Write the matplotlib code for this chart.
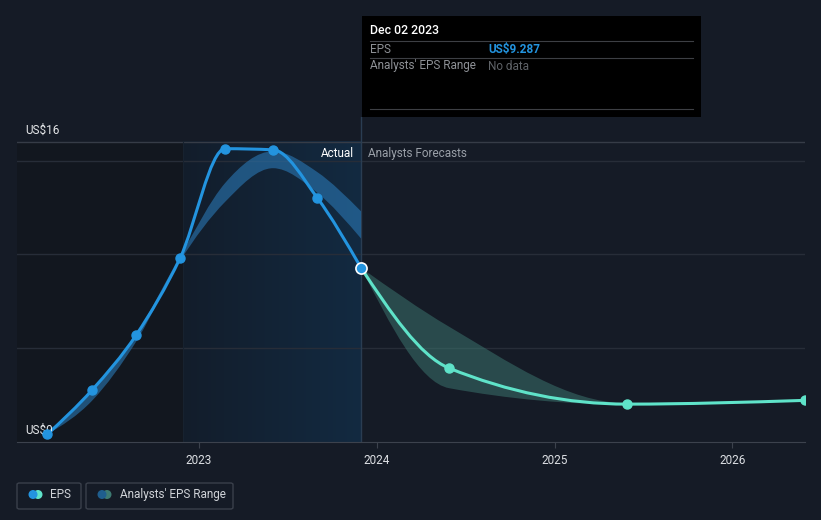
"""
EPS history and analysts' forecast range, dark theme.
"""

import numpy as np
import matplotlib
matplotlib.use("Agg")
import matplotlib.pyplot as plt
from matplotlib.path import Path
from matplotlib.patches import PathPatch, Rectangle, FancyBboxPatch, Circle
from matplotlib.colors import LinearSegmentedColormap

plt.rcParams["font.family"] = ["Roboto", "DejaVu Sans"]

# data (decimal years, EPS in US$)
actual_dates = [2022.145, 2022.398, 2022.646, 2022.893, 2023.146, 2023.416, 2023.664, 2023.911]
actual_eps = [0.4, 2.77, 5.7, 9.8, 15.64, 15.58, 13.03, 9.287]

past_range_low = [0.4, 2.2, 5.35, 9.65, 12.8, 14.6, 13.3, 10.85]
past_range_high = [0.4, 2.8, 5.75, 9.9, 13.8, 15.5, 14.4, 12.3]

forecast_dates = [2023.911, 2024.406, 2025.407, 2026.408]
forecast_eps = [9.287, 3.94, 2.02, 2.22]
forecast_low = [9.287, 2.87, 2.0, 2.2]
forecast_high = [9.287, 6.15, 2.07, 2.25]

year_ticks = [2023, 2024, 2025, 2026]
highlight_start, today = 2022.912, 2023.911

BG = "#151b26"
BLUE = "#2394df"
TEAL = "#5fe3c9"


def monotone_segments(xs, ys):
    """Bezier segments of a monotone-x cubic through the points."""
    xs = np.asarray(xs, float)
    ys = np.asarray(ys, float)
    h = np.diff(xs)
    s = np.diff(ys) / h
    n = len(xs)
    m = np.zeros(n)
    for i in range(1, n - 1):
        p = (s[i - 1] * h[i] + s[i] * h[i - 1]) / (h[i - 1] + h[i])
        sg = (1 if s[i - 1] >= 0 else -1) + (1 if s[i] >= 0 else -1)
        m[i] = sg * min(abs(s[i - 1]), abs(s[i]), 0.5 * abs(p))
    m[0] = (3 * s[0] - m[1]) / 2
    m[-1] = (3 * s[-1] - m[-2]) / 2
    segs = []
    for i in range(n - 1):
        d = h[i] / 3
        segs.append(((xs[i], ys[i]),
                     (xs[i] + d, ys[i] + m[i] * d),
                     (xs[i + 1] - d, ys[i + 1] - m[i + 1] * d),
                     (xs[i + 1], ys[i + 1])))
    return segs


def curve_path(xs, ys):
    segs = monotone_segments(xs, ys)
    verts = [segs[0][0]]
    codes = [Path.MOVETO]
    for sg in segs:
        verts += [sg[1], sg[2], sg[3]]
        codes += [Path.CURVE4] * 3
    return Path(verts, codes)


def band_path(xs, lo, hi):
    up = monotone_segments(xs, hi)
    dn = monotone_segments(xs, lo)
    verts = [up[0][0]]
    codes = [Path.MOVETO]
    for sg in up:
        verts += [sg[1], sg[2], sg[3]]
        codes += [Path.CURVE4] * 3
    verts.append(dn[-1][3])
    codes.append(Path.LINETO)
    for sg in reversed(dn):
        verts += [sg[2], sg[1], sg[0]]
        codes += [Path.CURVE4] * 3
    verts.append(verts[0])
    codes.append(Path.CLOSEPOLY)
    return Path(verts, codes)


fig = plt.figure(figsize=(8.21, 5.2), dpi=100, facecolor=BG)
ax = fig.add_axes([17 / 821, 78 / 520, 788 / 821, 325 / 520])
ax.set_facecolor(BG)
ax.set_xlim(2021.976, 2026.408)
ax.set_ylim(0, 17.33)

# background regions
ax.axvspan(2021.976, highlight_start, ymin=0, ymax=16 / 17.33, color="#12171f", lw=0, zorder=0)
grad = np.linspace(0, 1, 256).reshape(1, -1)
cmap = LinearSegmentedColormap.from_list("hl", ["#121d2b", "#132a41"])
ax.imshow(grad, cmap=cmap, aspect="auto", extent=(highlight_start, today, 0, 16), zorder=0.5)

# grid
for g in [5, 10, 15]:
    ax.axhline(g, color="#272d38", lw=1, zorder=1)
ax.axhline(16, color="#363c47", lw=1, zorder=1)
ax.axvline(highlight_start, ymax=16 / 17.33, color="#17222f", lw=0.8, zorder=1)
ax.axvline(today, color="#2a3d52", lw=1, zorder=1)

# ranges
ax.add_patch(PathPatch(band_path(actual_dates, past_range_low, past_range_high),
                       facecolor="#2a78b5", alpha=0.6, lw=0, zorder=2))
ax.add_patch(PathPatch(band_path(forecast_dates, forecast_low, forecast_high),
                       facecolor="#3d7a72", alpha=0.5, lw=0, zorder=2))

# EPS lines
ax.add_patch(PathPatch(curve_path(actual_dates, actual_eps), facecolor="none",
                       edgecolor=BLUE, lw=2.2, zorder=3, capstyle="round"))
ax.add_patch(PathPatch(curve_path(forecast_dates, forecast_eps), facecolor="none",
                       edgecolor=TEAL, lw=2.2, zorder=3, capstyle="round"))
ax.plot(actual_dates[:-1], actual_eps[:-1], "o", color=BLUE, ms=6.5, zorder=4)
ax.plot(forecast_dates[1:], forecast_eps[1:], "o", color=TEAL, ms=6.5, zorder=4, clip_on=True)
ax.plot(actual_dates[-1:], actual_eps[-1:], "o", color=BLUE, ms=8, mec="white", mew=1.2, zorder=5)

# axes styling
for sp in ["top", "right", "left"]:
    ax.spines[sp].set_visible(False)
ax.spines["bottom"].set_color("#3c424d")
ax.set_yticks([])
ax.set_xticks(year_ticks)
ax.set_xticklabels([str(y) for y in year_ticks], fontsize=8.5, color="#dcdfe3")
ax.tick_params(axis="x", length=4, color="#3c424d", pad=5)

ax.text(2022.02, 16.25, "US$16", fontsize=8.5, color="#e6e8ea", va="bottom")
ax.text(2022.02, 0.25, "US$0", fontsize=8.5, color="#e6e8ea", va="bottom")
ax.text(today - 0.04, 15.36, "Actual", fontsize=8.5, color="#ffffff", ha="right", va="center")
ax.text(today + 0.04, 15.36, "Analysts Forecasts", fontsize=8.5, color="#9aa0a8", ha="left", va="center")

# tooltip
def fx(px):
    return px / 821


def fy(py):
    return 1 - py / 520


fig.add_artist(Rectangle((fx(362), fy(117)), fx(701) - fx(362), fy(16) - fy(117),
                         transform=fig.transFigure, facecolor="#000000", lw=0))
for py in [41, 58, 109]:
    fig.add_artist(plt.Line2D([fx(370), fx(693)], [fy(py), fy(py)], transform=fig.transFigure,
                              color="#3d3f44", lw=0.8))
fig.text(fx(370), fy(31), "Dec 02 2023", fontsize=8.8, color="#ffffff", va="center", weight="medium")
fig.text(fx(370), fy(49.5), "EPS", fontsize=8.5, color="#8e9196", va="center")
fig.text(fx(488), fy(49.5), "US$9.287", fontsize=8.5, color=BLUE, va="center", weight="bold")
fig.text(fx(370), fy(66), "Analysts' EPS Range", fontsize=8.5, color="#8e9196", va="center")
fig.text(fx(488), fy(66), "No data", fontsize=8.5, color="#5f6368", va="center")

# legend
for x0, x1 in [(17, 81), (86, 233)]:
    fig.add_artist(FancyBboxPatch((fx(x0), fy(509)), fx(x1) - fx(x0), fy(483) - fy(509),
                                  boxstyle="round,pad=0,rounding_size=0.003",
                                  transform=fig.transFigure, facecolor="none",
                                  edgecolor="#3a404b", lw=1))


def legend_dots(px, c1, c2):
    r = 4.5
    for cx, c in [(px + 5, c2), (px, c1)]:
        fig.add_artist(Circle((cx, 520 - 494.5), r, transform=None, facecolor=c, lw=0))


legend_dots(33, BLUE, TEAL)
legend_dots(102, "#1f5e8e", "#3d7a72")
fig.text(fx(50), fy(494.5), "EPS", fontsize=8.5, color="#d0d3d8", va="center")
fig.text(fx(120), fy(494.5), "Analysts' EPS Range", fontsize=8.5, color="#d0d3d8", va="center")

fig.savefig("out.png", dpi=100, facecolor=BG)
